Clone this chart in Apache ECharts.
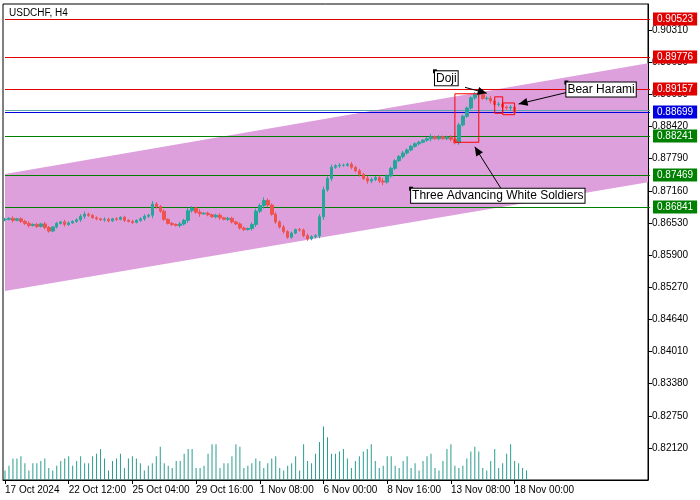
<!DOCTYPE html>
<html><head><meta charset="utf-8">
<script src="https://cdn.jsdelivr.net/npm/echarts@6/dist/echarts.min.js"></script>
<style>html,body{margin:0;padding:0;background:#fff}#c{width:700px;height:500px}</style>
</head><body><div id="c"></div>
<script>
const title = "USDCHF, H4";
const closes = [
0.8660,0.8662,0.8658,0.8661,0.8656,0.8652,
0.8648,0.8650,0.8646,0.8651,0.8644,0.8637,0.8645,
0.8652,0.8655,0.8650,0.8653,0.8656,0.8659,0.8666,0.8670,
0.8668,0.8663,0.8661,0.8659,0.8660,0.8657,0.8661,0.8660,0.8664,0.8658,
0.8656,0.8654,0.8658,0.8661,0.8666,0.8668,
0.8690,0.8685,0.8676,0.8660,
0.8652,0.8650,0.8648,0.8651,0.8658,
0.8677,0.8682,0.8674,0.8671,0.8672,
0.8669,0.8665,0.8668,0.8663,0.8660,0.8662,0.8655,0.8651,0.8643,0.8640,
0.8642,0.8650,0.8676,0.8687,
0.8697,0.8688,
0.8670,0.8655,0.8645,0.8636,0.8625,0.8633,
0.8640,0.8639,0.8628,0.8622,0.8626,0.8628,
0.8665,0.8718,0.8740,0.8762,0.8765,
0.8766,0.8766,0.8768,0.8762,0.8755,0.8748,
0.8740,0.8735,0.8738,0.8742,0.8735,0.8733,
0.8745,0.8760,0.8775,0.8783,0.8790,
0.8796,0.8803,0.8808,0.8811,0.8815,0.8818,
0.8822,0.8818,0.8822,0.8818,0.8821,0.8817,0.8810,
0.8845,0.8862,0.8878,0.8898,
0.8905,0.8905,0.8897,0.8897,0.8892,
0.8885,0.8886,0.8880,0.8878,0.8880,0.8870];
const firstOpen = 0.8659;
const wicks = [3,2,4,2,3,3,4,2,3,2,4,3,2,3,2,4,3,2,3,4,5,3,2,3,2,4,3,2,3,2,3,
2,3,2,3,4,3,6,4,3,3,2,3,2,4,3,5,4,3,6,2,3,2,3,4,2,3,3,2,3,3,2,4,5,4,6,4,3,4,3,4,3,3,
2,3,3,4,3,3,5,6,4,5,3,4,3,3,4,3,4,3,5,4,3,4,6,3,3,3,3,4,3,3,3,3,2,3,5,2,3,2,3,4,3,
4,3,3,3,4,6,3,4,5,3,4,3,3,4,3];
const volumes = [8,12,18,18,20,14,8,14,14,16,18,10,8,12,16,18,20,12,16,20,14,14,20,22,26,18,
8,16,18,22,10,18,20,18,14,8,12,14,20,28,14,12,10,16,16,22,26,26,10,10,12,22,30,30,10,
14,14,20,30,28,10,12,14,18,16,10,14,18,20,10,8,12,14,20,8,30,16,14,22,32,45,36,22,22,
24,26,18,10,16,20,24,26,30,16,10,12,20,20,12,10,16,20,10,14,8,16,20,22,10,8,16,26,30,
12,10,12,18,24,28,24,10,8,16,26,10,14,22,30,16,14,10,8];
const xLabels = {0:"17 Oct 2024",16:"22 Oct 12:00",32:"25 Oct 04:00",48:"29 Oct 16:00",64:"1 Nov 08:00",80:"6 Nov 00:00",96:"8 Nov 16:00",112:"13 Nov 08:00",128:"18 Nov 00:00"};
const yTicks = [0.82120,0.82750,0.83380,0.84010,0.84640,0.85270,0.85900,0.86530,0.87160,0.87790,0.88420,0.89050,0.89680,0.90310];
const levelValues = [0.90523,0.89776,0.89157,0.88750,0.88699,0.88241,0.87469,0.86841];
const levelColors = ['#e00000','#e00000','#e00000','#5aa6b0','#0000e0','#008000','#008000','#008000'];
const levelLabeled = [true,true,true,false,true,true,true,true];
const channelTop = [0.87489, 0.89663];
const channelBottom = [0.85196, 0.87332];
const nSlots = 162;

const FONT = 'Liberation Sans';
const cats = Array.from({length:nSlots},(_,i)=>String(i));
const ohlc = closes.map((c,i)=>{
  const o = i===0?firstOpen:closes[i-1];
  const w = wicks[i]*0.0001;
  return [o,c,Math.min(o,c)-w,Math.max(o,c)+w];
});

const chart = echarts.init(document.getElementById('c'));
chart.setOption({
  animation:false,
  backgroundColor:'#fff',
  title:{text:title,left:4,top:3,textStyle:{fontSize:10,fontWeight:'normal',color:'#000',fontFamily:FONT}},
  grid:{left:3,right:52,top:4,bottom:20,show:true,borderColor:'#000',borderWidth:1},
  xAxis:{type:'category',data:cats,boundaryGap:true,
    axisLine:{lineStyle:{color:'#000'}},
    axisTick:{show:true,length:4,lineStyle:{color:'#000'},interval:(i)=>xLabels[i]!==undefined,alignWithLabel:true},
    axisLabel:{interval:(i)=>xLabels[i]!==undefined,hideOverlap:false,formatter:(v)=>xLabels[v]||'',align:'left',margin:5,color:'#000',fontSize:10,fontFamily:FONT},
    splitLine:{show:false}},
  yAxis:[{type:'value',position:'right',min:0.81493,max:0.90819,scale:true,
    axisLine:{show:true,lineStyle:{color:'#000'}},
    axisTick:{show:true,length:4,lineStyle:{color:'#000'},customValues:yTicks},
    axisLabel:{customValues:yTicks,formatter:(v)=>v.toFixed(5),color:'#000',fontSize:10,fontFamily:FONT,margin:4},
    splitLine:{show:false}},
   {type:'value',min:0,max:400,show:false}],
  series:[
    {type:'custom',renderItem:(p,api)=>{
      const a=api.coord([-0.5,channelTop[0]]),b=api.coord([nSlots-0.5,channelTop[1]]),
            c=api.coord([nSlots-0.5,channelBottom[1]]),d=api.coord([-0.5,channelBottom[0]]);
      return {type:'polygon',shape:{points:[a,b,c,d]},style:{fill:'#dda0dd'}};
    },data:[0],clip:true,z:1,silent:true},
    {type:'bar',yAxisIndex:1,data:volumes,barWidth:1,itemStyle:{color:'#2a9d8f'},z:3,silent:true},
    {type:'candlestick',data:ohlc,barWidth:3,z:4,
      itemStyle:{color:'#26a69a',color0:'#ef5350',borderColor:'#26a69a',borderColor0:'#ef5350'}}
  ]
});

const P=(i,v)=>chart.convertToPixel({gridIndex:0},[i,v]);
const levelGraphics=[];
levelValues.forEach((v,i)=>{
  const col=levelColors[i], a=P(-0.5,v), b=P(nSlots-0.5,v), y=Math.round(a[1]);
  levelGraphics.push({type:'rect',shape:{x:a[0],y:y,width:b[0]-a[0],height:1},style:{fill:col},z:2,silent:true});
  if(levelLabeled[i]) levelGraphics.push({type:'text',x:b[0]+3,y:y,style:{text:v.toFixed(5),fill:'#fff',backgroundColor:col,padding:[2,4,1,4],font:'10px "Liberation Sans"',verticalAlign:'middle'},z:5});
});
const rect=(i0,i1,v0,v1)=>{const a=P(i0,v1),b=P(i1,v0);return {type:'rect',shape:{x:a[0],y:a[1],width:b[0]-a[0],height:b[1]-a[1]},style:{fill:null,stroke:'#ff0000',lineWidth:1},z:10};};
const arrow=(p,q)=>{const ang=Math.atan2(q[1]-p[1],q[0]-p[0]),L=9,W=4;
  const h1=[q[0]-L*Math.cos(ang)+W*Math.sin(ang),q[1]-L*Math.sin(ang)-W*Math.cos(ang)];
  const h2=[q[0]-L*Math.cos(ang)-W*Math.sin(ang),q[1]-L*Math.sin(ang)+W*Math.cos(ang)];
  return [{type:'line',shape:{x1:p[0],y1:p[1],x2:q[0],y2:q[1]},style:{stroke:'#000',lineWidth:1},z:11},
          {type:'polygon',shape:{points:[q,h1,h2]},style:{fill:'#000'},z:11}];};
const label=(pt,text)=>[{type:'rect',shape:{x:pt[0]-2,y:pt[1]-2,width:4,height:4},style:{fill:'#000'},z:12},
  {type:'text',x:pt[0],y:pt[1],style:{text:text,fill:'#000',font:'12px "Liberation Sans"',backgroundColor:'#fff',borderColor:'#000',borderWidth:1,padding:[1,1]},z:12}];
const dojiPt=P(108.3,0.89500), haramiPt=P(140.5,0.89280), tawsPt=P(102.3,0.87200);
chart.setOption({graphic:[
  ...levelGraphics,
  rect(112.5,118.5,0.88110,0.89060), rect(122.7,124.9,0.88680,0.89000), rect(125,128,0.88650,0.88880),
  ...arrow([dojiPt[0]+30,dojiPt[1]+16],P(121.3,0.89070)),
  ...arrow([haramiPt[0],haramiPt[1]+10],P(128.8,0.88860)),
  ...arrow([tawsPt[0]+90,tawsPt[1]],P(118.0,0.88020)),
  ...label(dojiPt,'Doji'), ...label(haramiPt,'Bear Harami'), ...label(tawsPt,'Three Advancing White Soldiers')
]});
</script></body></html>
